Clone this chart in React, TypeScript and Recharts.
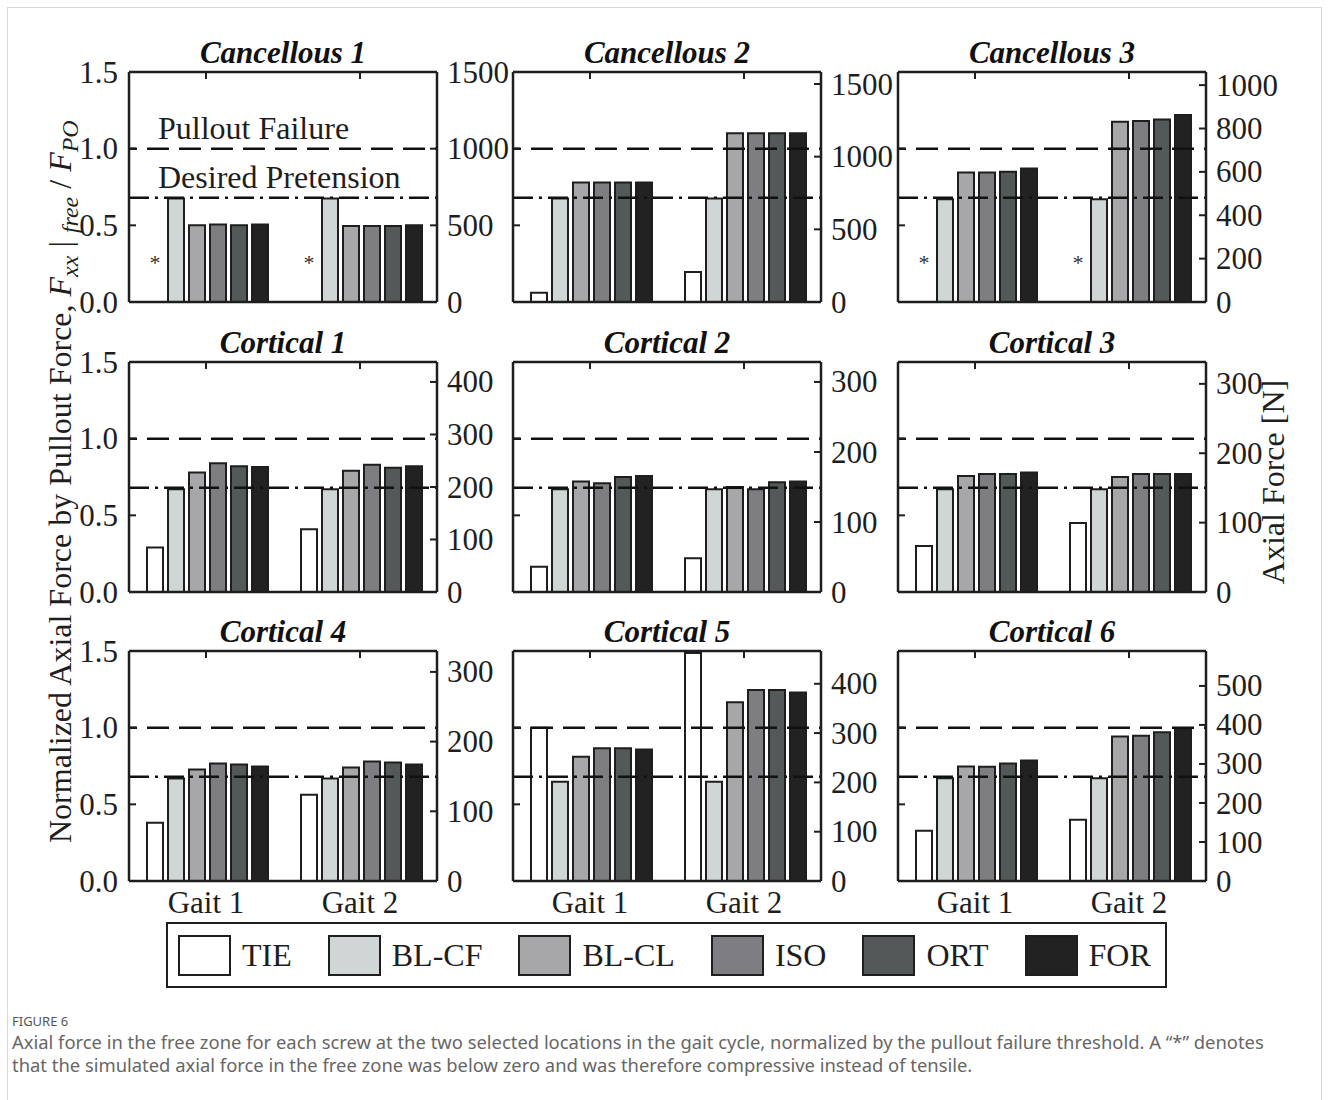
import React from 'react';
import { ComposedChart, Bar, Line, XAxis, YAxis, ReferenceLine, Rectangle } from 'recharts';

const SERIF = "'Liberation Serif', 'Times New Roman', serif";
const SANS = "'Noto Sans', 'Open Sans', sans-serif";
const INK = '#1e1e1e';

const GAITS = ['Gait 1', 'Gait 2'];
const SCREWS = ['TIE', 'BL-CF', 'BL-CL', 'ISO', 'ORT', 'FOR'];
const FILLS = ['#ffffff', '#d0d5d5', '#a7a7aa', '#7e7e82', '#535958', '#222222'];

const TITLES = [
  'Cancellous 1', 'Cancellous 2', 'Cancellous 3',
  'Cortical 1', 'Cortical 2', 'Cortical 3',
  'Cortical 4', 'Cortical 5', 'Cortical 6',
];

// F_xx / F_PO for [gait 1, gait 2], order TIE, BL-CF, BL-CL, ISO, ORT, FOR
const CANC_1 = [[0, 0.675, 0.5, 0.505, 0.5, 0.505], [0, 0.675, 0.495, 0.495, 0.495, 0.5]];
const CANC_2 = [[0.06, 0.675, 0.78, 0.78, 0.78, 0.78], [0.195, 0.675, 1.1, 1.1, 1.1, 1.1]];
const CANC_3 = [[0, 0.67, 0.845, 0.845, 0.85, 0.87], [0, 0.67, 1.175, 1.18, 1.19, 1.22]];
const CORT_1 = [[0.29, 0.67, 0.78, 0.84, 0.82, 0.815], [0.41, 0.67, 0.79, 0.83, 0.81, 0.82]];
const CORT_2 = [[0.165, 0.67, 0.72, 0.71, 0.75, 0.757], [0.22, 0.67, 0.685, 0.67, 0.715, 0.72]];
const CORT_3 = [[0.3, 0.67, 0.757, 0.77, 0.77, 0.78], [0.45, 0.67, 0.75, 0.77, 0.77, 0.77]];
const CORT_4 = [[0.38, 0.668, 0.727, 0.766, 0.76, 0.747], [0.563, 0.668, 0.74, 0.78, 0.773, 0.76]];
const CORT_5 = [[1.0, 0.648, 0.81, 0.865, 0.865, 0.858], [1.487, 0.648, 1.166, 1.245, 1.245, 1.23]];
const CORT_6 = [[0.327, 0.67, 0.747, 0.745, 0.766, 0.786], [0.4, 0.67, 0.943, 0.947, 0.97, 0.99]];
const PANELS = [CANC_1, CANC_2, CANC_3, CORT_1, CORT_2, CORT_3, CORT_4, CORT_5, CORT_6];

// TIE below zero (compressive) -> "*"
const TIE_COMPRESSIVE = [
  [true, true], [false, false], [true, true],
  [false, false], [false, false], [false, false],
  [false, false], [false, false], [false, false],
];

// pullout force per screw [N], sets the right axis
const PULLOUT_N = [1000, 1055, 707, 292, 219, 221, 220, 311, 393];
const FORCE_TICKS = [
  [0, 500, 1000, 1500], [0, 500, 1000, 1500], [0, 200, 400, 600, 800, 1000],
  [0, 100, 200, 300, 400], [0, 100, 200, 300], [0, 100, 200, 300],
  [0, 100, 200, 300], [0, 100, 200, 300, 400], [0, 100, 200, 300, 400, 500],
];
const NORM_TICKS = [0, 0.5, 1, 1.5];
const PULLOUT_FAILURE = 1.0;
const DESIRED_PRETENSION = 0.68;

// layout
const BOX_LEFT = [129, 513, 898];
const BOX_TOP = [72, 362, 651];
const BOX_W = 308;
const BOX_H = 230;
const LEFT_W = 60;
const RIGHT_W = 80;
const TOP_PAD = 20;
const TOP_AXIS_H = 1;
const XAXIS_H = 45;
const TICK_LEN = 7;
const LEFT_GAP = 11;
const RIGHT_GAP = 10;

const tickFont = { fontSize: 31, fill: INK, fontFamily: SERIF };

// inward tick marks, label (optional) outside the box
const LeftTick = ({ x, y, payload, show }: any) => (
  <g>
    <line x1={x + LEFT_GAP} x2={x + LEFT_GAP + TICK_LEN} y1={y} y2={y} stroke={INK} strokeWidth={2} />
    {show && (
      <text x={x} y={y} dy="0.34em" textAnchor="end" {...tickFont}>
        {Number(payload.value).toFixed(1)}
      </text>
    )}
  </g>
);

const RightTick = ({ x, y, payload }: any) => (
  <g>
    <line x1={x - RIGHT_GAP - TICK_LEN} x2={x - RIGHT_GAP} y1={y} y2={y} stroke={INK} strokeWidth={2} />
    <text x={x} y={y} dy="0.34em" textAnchor="start" {...tickFont}>
      {payload.value}
    </text>
  </g>
);

const TopTick = ({ x, y }: any) => (
  <line x1={x} x2={x} y1={y} y2={y + TICK_LEN} stroke={INK} strokeWidth={2} />
);

const tieShape = (props: any) => {
  const { x, y, width, payload } = props;
  return (
    <g>
      <Rectangle {...props} />
      {payload && payload.mark && (
        <text x={x + width / 2} y={y - 32} textAnchor="middle" fontSize={22} fontFamily={SERIF} fill="#333">
          {payload.mark}
        </text>
      )}
    </g>
  );
};

const lineLabel = (text: string) => (props: any) => {
  const vb = props.viewBox || {};
  return (
    <text x={vb.x + 29} y={vb.y - 10} fontSize={32} fontFamily={SERIF} fill={INK}>
      {text}
    </text>
  );
};

function Panel({ idx }: { idx: number }) {
  const col = idx % 3;
  const row = Math.floor(idx / 3);
  const values = PANELS[idx];
  const fpo = PULLOUT_N[idx];
  const data = GAITS.map((g, gi) => {
    const d: any = { gait: g, mark: TIE_COMPRESSIVE[idx][gi] ? '*' : '', force: Math.max(...values[gi]) * fpo };
    SCREWS.forEach((s, si) => (d[s] = values[gi][si]));
    return d;
  });
  const axisLine = { stroke: INK, strokeWidth: 2.5 };

  return (
    <div style={{ position: 'absolute', left: BOX_LEFT[col] - LEFT_W, top: BOX_TOP[row] - TOP_PAD }}>
      <ComposedChart
        width={LEFT_W + BOX_W + RIGHT_W}
        height={TOP_PAD + BOX_H + XAXIS_H}
        data={data}
        margin={{ top: TOP_PAD - TOP_AXIS_H, right: 0, bottom: 0, left: 0 }}
        barCategoryGap={18}
        barGap={5}
      >
        <XAxis
          xAxisId="bottom"
          dataKey="gait"
          height={XAXIS_H}
          axisLine={axisLine}
          tickLine={false}
          tickSize={0}
          tickMargin={10}
          interval={0}
          tick={row === 2 ? tickFont : false}
        />
        <XAxis
          xAxisId="top"
          dataKey="gait"
          orientation="top"
          height={TOP_AXIS_H}
          axisLine={axisLine}
          tickLine={false}
          tickSize={0}
          tickMargin={0}
          interval={0}
          tick={(p: any) => <TopTick {...p} />}
        />
        <YAxis
          yAxisId="norm"
          width={LEFT_W}
          domain={[0, 1.5]}
          ticks={NORM_TICKS}
          interval={0}
          allowDataOverflow
          axisLine={axisLine}
          tickLine={false}
          tickSize={0}
          tickMargin={LEFT_GAP}
          tick={(p: any) => <LeftTick {...p} show={col === 0} />}
        />
        <YAxis
          yAxisId="force"
          orientation="right"
          width={RIGHT_W}
          domain={[0, 1.5 * fpo]}
          ticks={FORCE_TICKS[idx]}
          interval={0}
          allowDataOverflow
          axisLine={axisLine}
          tickLine={false}
          tickSize={0}
          tickMargin={RIGHT_GAP}
          tick={(p: any) => <RightTick {...p} />}
        />
        {SCREWS.map((s, si) => (
          <Bar
            key={s}
            dataKey={s}
            xAxisId="bottom"
            yAxisId="norm"
            fill={FILLS[si]}
            stroke={INK}
            strokeWidth={2}
            isAnimationActive={false}
            shape={si === 0 ? tieShape : undefined}
          />
        ))}
        <Line
          dataKey="force"
          xAxisId="top"
          yAxisId="force"
          stroke="none"
          dot={false}
          activeDot={false}
          legendType="none"
          isAnimationActive={false}
        />
        <ReferenceLine
          y={PULLOUT_FAILURE}
          xAxisId="bottom"
          yAxisId="norm"
          stroke="#111"
          strokeWidth={2.5}
          strokeDasharray="22 10"
          strokeDashoffset={14}
          label={idx === 0 ? lineLabel('Pullout Failure') : undefined}
        />
        <ReferenceLine
          y={DESIRED_PRETENSION}
          xAxisId="bottom"
          yAxisId="norm"
          stroke="#111"
          strokeWidth={2.5}
          strokeDasharray="20 6 3 6"
          label={idx === 0 ? lineLabel('Desired Pretension') : undefined}
        />
      </ComposedChart>
    </div>
  );
}

export default function App() {
  const sub = { fontSize: 24, fontStyle: 'italic' as const };
  return (
    <div style={{ position: 'absolute', left: 0, top: 0, width: 1329, height: 1100, background: '#fff', overflow: 'hidden' }}>
      <div
        style={{
          position: 'absolute', left: 7, top: 7, width: 1315, height: 1120,
          border: '1.5px solid #d9d9d9', boxSizing: 'border-box',
        }}
      />
      {TITLES.map((_, i) => (
        <Panel key={i} idx={i} />
      ))}
      <svg width={1329} height={1100} style={{ position: 'absolute', left: 0, top: 0, pointerEvents: 'none' }}>
        {TITLES.map((t, i) => (
          <text
            key={t}
            x={BOX_LEFT[i % 3] + BOX_W / 2}
            y={BOX_TOP[Math.floor(i / 3)] - 9}
            textAnchor="middle"
            fontFamily={SERIF}
            fontSize={31}
            fontWeight="bold"
            fontStyle="italic"
            fill="#111"
          >
            {t}
          </text>
        ))}
        <text transform="translate(71,843) rotate(-90)" fontFamily={SERIF} fontSize={32} fill={INK}>
          Normalized Axial Force by Pullout Force,{' '}
          <tspan fontStyle="italic">F</tspan>
          <tspan {...sub} dy={7}>xx</tspan>
          <tspan dy={-7}> | </tspan>
          <tspan {...sub} dy={7}>free</tspan>
          <tspan dy={-7}> / </tspan>
          <tspan fontStyle="italic">F</tspan>
          <tspan {...sub} dy={7}>PO</tspan>
        </text>
        <text transform="translate(1284,482) rotate(-90)" textAnchor="middle" fontFamily={SERIF} fontSize={32} fill={INK}>
          Axial Force [N]
        </text>
      </svg>
      <div
        style={{
          position: 'absolute', left: 166, top: 922, width: 1001, height: 66,
          border: `2.5px solid ${INK}`, boxSizing: 'border-box',
          display: 'flex', alignItems: 'center', paddingLeft: 10,
        }}
      >
        {SCREWS.map((s, i) => (
          <div key={s} style={{ display: 'flex', alignItems: 'center', marginLeft: i === 0 ? 0 : 36 }}>
            <span
              style={{
                display: 'inline-block', width: 53, height: 41, background: FILLS[i],
                border: `2.5px solid ${INK}`, boxSizing: 'border-box',
              }}
            />
            <span style={{ marginLeft: 11, fontFamily: SERIF, fontSize: 32, color: INK, lineHeight: '41px' }}>{s}</span>
          </div>
        ))}
      </div>
      <div style={{ position: 'absolute', left: 12, top: 1012, fontFamily: SANS, fontSize: 13, color: '#555' }}>
        FIGURE 6
      </div>
      <div
        style={{
          position: 'absolute', left: 12, top: 1030, width: 1310, fontFamily: SANS, fontSize: 18.4,
          lineHeight: '23px', color: '#666', whiteSpace: 'nowrap',
        }}
      >
        Axial force in the free zone for each screw at the two selected locations in the gait cycle, normalized by the
        pullout failure threshold. A “*” denotes
        <br />
        that the simulated axial force in the free zone was below zero and was therefore compressive instead of tensile.
      </div>
    </div>
  );
}
